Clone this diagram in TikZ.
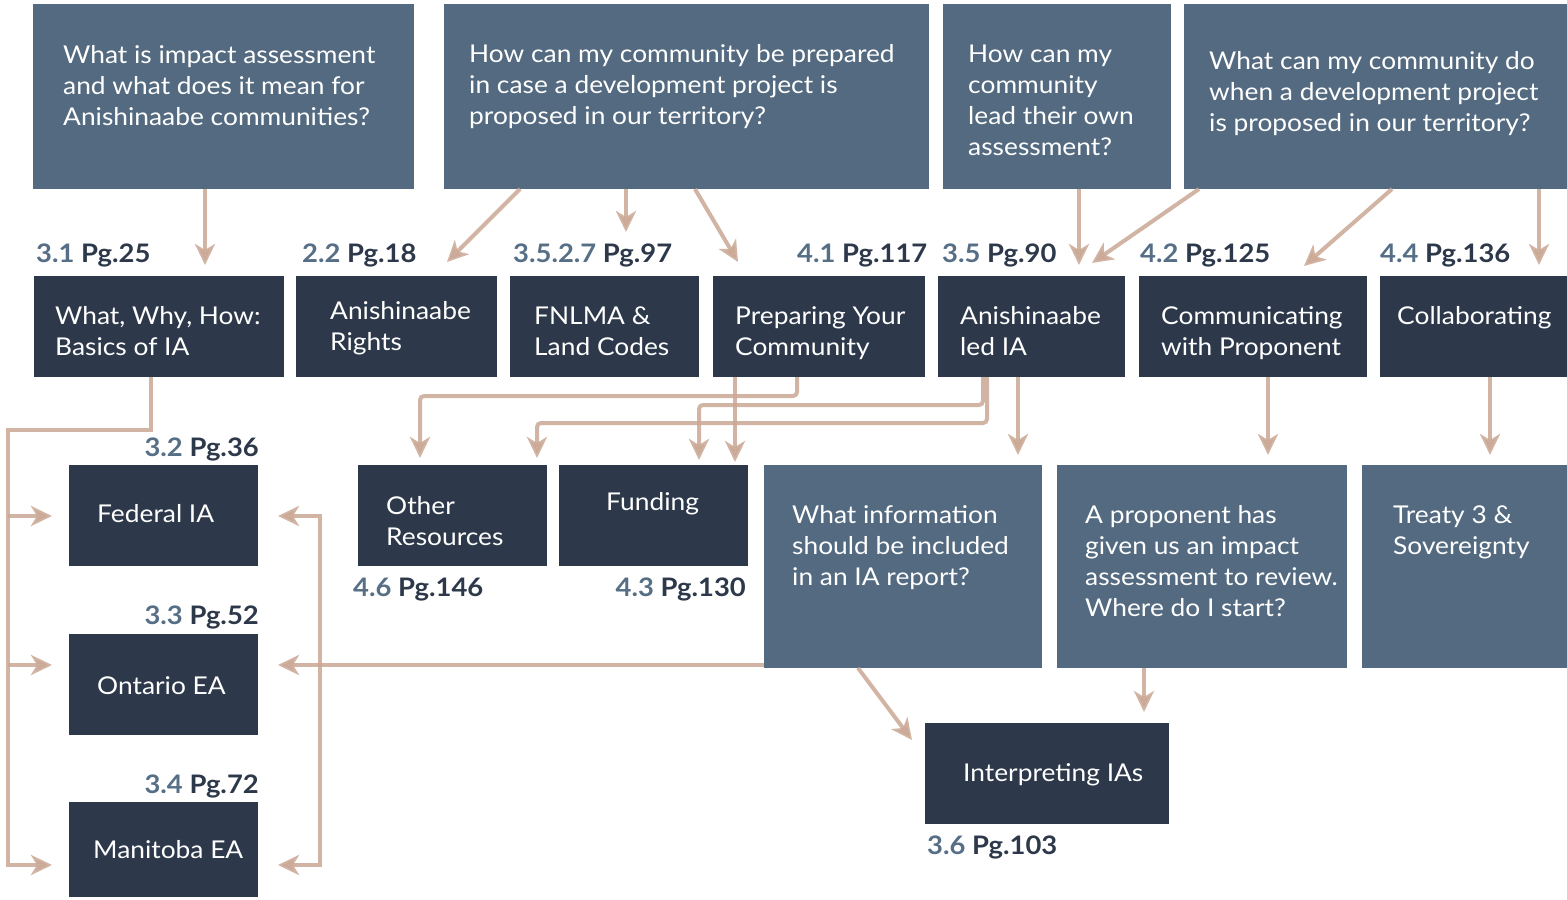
\documentclass[tikz,border=0pt]{standalone}
\usepackage{fontspec}
\setmainfont{Lato}[FakeStretch=1.075]
\usetikzlibrary{arrows.meta}
\definecolor{qbox}{HTML}{536A80}
\definecolor{tbox}{HTML}{2D394A}
\definecolor{link}{HTML}{CAA894}
\definecolor{numc}{HTML}{566F86}
\newcommand\secno[1]{\textcolor{numc}{#1}}
\begin{document}
\begin{tikzpicture}[x=1pt,y=-1pt,
  box/.style={anchor=north west,inner sep=0pt,outer sep=0pt,minimum height=#1},
  qb/.style={box=185,fill=qbox},
  tb/.style={box=101,fill=tbox},
  % multi-line texts are placed by the baseline of their last line
  txt/.style={anchor=base west,inner sep=0pt,align=left,text=white,
    font=\fontsize{24.5}{31}\selectfont},
  lab/.style={inner sep=0pt,text=tbox,font=\fontsize{25.5}{31}\selectfont\bfseries},
  arr/.style={draw=link,opacity=0.85,line width=4pt,
    -{Stealth[length=21pt,width=20pt,inset=6pt]}}]
\useasboundingbox[fill=white] (0,0) rectangle (1567,900);

% question boxes
\node[qb,minimum width=381] (q1) at (33,4) {};
\node[qb,minimum width=485] (q2) at (444,4) {};
\node[qb,minimum width=228] (q3) at (943,4) {};
\node[qb,minimum width=383] (q4) at (1184,4) {};
\node[txt] (q1t) at (63,125) {What is impact assessment\\and what does it mean for\\Anishinaabe communities?};
\node[txt] (q2t) at (469,124) {How can my community be prepared\\in case a development project is\\proposed in our territory?};
\node[txt] (q3t) at (968,155) {How can my\\community\\lead their own\\assessment?};
\node[txt] (q4t) at (1209,131) {What can my community do\\when a development project\\is proposed in our territory?};

% topic boxes, second row
\node[tb,minimum width=250] (b1) at (34,276) {};
\node[tb,minimum width=201] (b2) at (296,276) {};
\node[tb,minimum width=189] (b3) at (510,276) {};
\node[tb,minimum width=212] (b4) at (713,276) {};
\node[tb,minimum width=187] (b5) at (938,276) {};
\node[tb,minimum width=228] (b6) at (1139,276) {};
\node[tb,minimum width=187] (b7) at (1380,276) {};
\node[txt] (b1t) at (55,355) {What, Why, How:\\Basics of IA};
\node[txt] (b2t) at (330,350) {Anishinaabe\\Rights};
\node[txt] (b3t) at (534,355) {FNLMA \&\\Land Codes};
\node[txt] (b4t) at (735,355) {Preparing Your\\Community};
\node[txt] (b5t) at (960,355) {Anishinaabe\\led IA};
\node[txt] (b6t) at (1161,355) {Communicating\\with Proponent};
\node[txt] (b7t) at (1397,324) {Collaborating};

% section references, second row
\node[lab,anchor=base west] (l1) at (36,262) {\secno{3.1} Pg.25};
\node[lab,anchor=base west] (l2) at (302,262) {\secno{2.2} Pg.18};
\node[lab,anchor=base west] (l3) at (513,262) {\secno{3.5.2.7} Pg.97};
\node[lab,anchor=base west] (l4) at (797,262) {\secno{4.1} Pg.117};
\node[lab,anchor=base west] (l5) at (942,262) {\secno{3.5} Pg.90};
\node[lab,anchor=base west] (l6) at (1140,262) {\secno{4.2} Pg.125};
\node[lab,anchor=base west] (l7) at (1380,262) {\secno{4.4} Pg.136};

% third row
\node[tb,minimum width=189] (fed) at (69,465) {};
\node[tb,minimum width=189] (ont) at (69,634) {};
\node[box=95,fill=tbox,minimum width=189] (man) at (69,802) {};
\node[tb,minimum width=189] (oth) at (358,465) {};
\node[tb,minimum width=189] (fun) at (559,465) {};
\node[box=203,fill=qbox,minimum width=278] (winfo) at (764,465) {};
\node[box=203,fill=qbox,minimum width=290] (prop) at (1057,465) {};
\node[box=203,fill=qbox,minimum width=205] (treaty) at (1362,465) {};
\node[tb,minimum width=244] (interp) at (925,723) {};
\node[txt] (fedt) at (97,522) {Federal IA};
\node[txt] (ontt) at (97,694) {Ontario EA};
\node[txt] (mant) at (93,858) {Manitoba EA};
\node[txt] (otht) at (386,545) {Other\\Resources};
\node[txt] (funt) at (606,510) {Funding};
\node[txt] (winfot) at (792,585) {What information\\should be included\\in an IA report?};
\node[txt] (propt) at (1085,616) {A proponent has\\given us an impact\\assessment to review.\\Where do I start?};
\node[txt] (treatyt) at (1393,554) {Treaty 3 \&\\Sovereignty};
\node[txt] (interpt) at (963,781) {Interpreting IAs};

\node[lab,anchor=base east] (l8) at (259,456) {\secno{3.2} Pg.36};
\node[lab,anchor=base east] (l9) at (259,624) {\secno{3.3} Pg.52};
\node[lab,anchor=base east] (l10) at (259,793) {\secno{3.4} Pg.72};
\node[lab,anchor=base west] (l11) at (353,596) {\secno{4.6} Pg.146};
\node[lab,anchor=base east] (l12) at (746,596) {\secno{4.3} Pg.130};
\node[lab,anchor=base west] (l13) at (927,854) {\secno{3.6} Pg.103};

% free ends of the connectors
\coordinate (t1) at (205,265);
\coordinate (t2) at (447,262);
\coordinate (t3) at (626,232);
\coordinate (t4) at (738,262);
\coordinate (t5) at (1079,265);
\coordinate (t6) at (1092,263);
\coordinate (t7) at (1304,266);
\coordinate (t8) at (1539,265);
\coordinate (t9) at (420,458);
\coordinate (t10) at (735,462);
\coordinate (t11) at (699,460);
\coordinate (t12) at (537,458);
\coordinate (t13) at (1018,455);
\coordinate (t14) at (1268,455);
\coordinate (t15) at (1490,455);
\coordinate (t16) at (912,740);
\coordinate (t17) at (1144,712);
\coordinate (t18) at (278,665);
\coordinate (t19) at (278,516);
\coordinate (t20) at (278,865);
\coordinate (t21) at (52,516);
\coordinate (t22) at (52,665);
\coordinate (t23) at (52,865);
\coordinate (lbus) at (8,430);
\coordinate (rbus) at (320,665);

% questions to topics
\draw[arr] (t1 |- q1.south) -- (t1);
\draw[arr] ([xshift=76]q2.south west) -- (t2);
\draw[arr] (t3 |- q2.south) -- (t3);
\draw[arr] ([xshift=251]q2.south west) -- (t4);
\draw[arr] (t5 |- q3.south) -- (t5);
\draw[arr] ([xshift=15]q4.south west) -- (t6);
\draw[arr] ([xshift=208]q4.south west) -- (t7);
\draw[arr] (t8 |- q4.south) -- (t8);

% topics to resources
\draw[arr,rounded corners=4pt] ([xshift=84]b4.south west) -- ++(0,19) -| (t9);
\draw[arr] (t10 |- b4.south) -- (t10);
\draw[arr,rounded corners=4pt] ([xshift=45]b5.south west) -- ++(0,28) -| (t11);
\draw[arr,rounded corners=4pt] ([xshift=49]b5.south west) -- ++(0,46) -| (t12);
\draw[arr] (t13 |- b5.south) -- (t13);
\draw[arr] (t14 |- b6.south) -- (t14);
\draw[arr] (t15 |- b7.south) -- (t15);

% questions to interpreting
\draw[arr] ([xshift=94]winfo.south west) -- (t16);
\draw[arr] (t17 |- prop.south) -- (t17);

% left bus: basics to the three regimes
\draw[arr] ([xshift=117]b1.south west) |- (lbus) |- (t23);
\draw[arr] (lbus |- t21) -- (t21);
\draw[arr] (lbus |- t22) -- (t22);

% right bus: IA report to the three regimes
\draw[arr] ([yshift=3]winfo.south west) -- (t18);
\draw[arr] (rbus) |- (t19);
\draw[arr] (rbus) |- (t20);
\end{tikzpicture}
\end{document}
